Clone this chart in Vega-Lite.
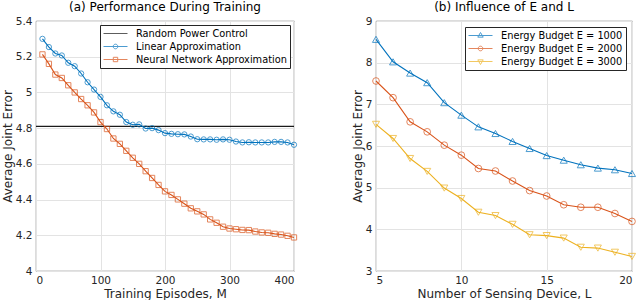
{
  "$schema": "https://vega.github.io/schema/vega-lite/v6.json",
  "padding": {"left": 0, "top": 0, "right": 6, "bottom": 0},
  "background": "white",
  "bounds": "flush",
  "resolve": {"scale": {"color": "independent", "shape": "independent"}, "legend": {"color": "independent", "shape": "independent"}},
  "config": {
    "font": "DejaVu Sans",
    "view": {"stroke": "#262626", "strokeWidth": 0.8},
    "concat": {"spacing": 82},
    "axis": {"domain": false, "ticks": false, "grid": true, "gridColor": "#e3e3e3", "gridWidth": 1, "labelFont": "DejaVu Sans", "labelFontSize": 10.5, "labelColor": "#262626", "titleFont": "DejaVu Sans", "titleFontSize": 12, "titleFontWeight": "normal", "titleColor": "#262626", "labelPadding": 4, "titlePadding": 1},
    "axisX": {"titlePadding": 3},
    "title": {"font": "DejaVu Sans", "fontSize": 12, "fontWeight": "normal", "color": "#000000", "offset": 2},
    "legend": {"orient": "top-right", "padding": 3, "strokeColor": "#262626", "fillColor": "white", "labelFont": "DejaVu Sans", "labelFontSize": 9.8, "labelColor": "#000000", "labelOffset": 15, "symbolOffset": 7, "rowPadding": 2, "symbolStrokeWidth": 1, "symbolSize": 100, "symbolFillColor": "transparent"}
  },
  "hconcat": [
    {
      "width": 258,
      "height": 250,
      "title": {"text": "(a) Performance During Training"},
      "data": {"values": [
        {"ep": 0, "Random Power Control": 4.81},
        {"ep": 10, "Linear Approximation": 5.300, "Neural Network Approximation": 5.213},
        {"ep": 20, "Linear Approximation": 5.254, "Neural Network Approximation": 5.160},
        {"ep": 30, "Linear Approximation": 5.218, "Neural Network Approximation": 5.100},
        {"ep": 40, "Linear Approximation": 5.207, "Neural Network Approximation": 5.081},
        {"ep": 50, "Linear Approximation": 5.166, "Neural Network Approximation": 5.040},
        {"ep": 60, "Linear Approximation": 5.147, "Neural Network Approximation": 5.000},
        {"ep": 70, "Linear Approximation": 5.106, "Neural Network Approximation": 4.963},
        {"ep": 80, "Linear Approximation": 5.057, "Neural Network Approximation": 4.928},
        {"ep": 90, "Linear Approximation": 5.016, "Neural Network Approximation": 4.888},
        {"ep": 100, "Linear Approximation": 4.975, "Neural Network Approximation": 4.834},
        {"ep": 110, "Linear Approximation": 4.928, "Neural Network Approximation": 4.795},
        {"ep": 120, "Linear Approximation": 4.894, "Neural Network Approximation": 4.742},
        {"ep": 130, "Linear Approximation": 4.875, "Neural Network Approximation": 4.712},
        {"ep": 140, "Linear Approximation": 4.834, "Neural Network Approximation": 4.673},
        {"ep": 150, "Linear Approximation": 4.819, "Neural Network Approximation": 4.634},
        {"ep": 160, "Linear Approximation": 4.821, "Neural Network Approximation": 4.600},
        {"ep": 170, "Linear Approximation": 4.798, "Neural Network Approximation": 4.559},
        {"ep": 180, "Linear Approximation": 4.800, "Neural Network Approximation": 4.521},
        {"ep": 190, "Linear Approximation": 4.789, "Neural Network Approximation": 4.482},
        {"ep": 200, "Linear Approximation": 4.772, "Neural Network Approximation": 4.446},
        {"ep": 210, "Linear Approximation": 4.768, "Neural Network Approximation": 4.426},
        {"ep": 220, "Linear Approximation": 4.766, "Neural Network Approximation": 4.401},
        {"ep": 230, "Linear Approximation": 4.765, "Neural Network Approximation": 4.377},
        {"ep": 240, "Linear Approximation": 4.753, "Neural Network Approximation": 4.351},
        {"ep": 250, "Linear Approximation": 4.738, "Neural Network Approximation": 4.334},
        {"ep": 260, "Linear Approximation": 4.737, "Neural Network Approximation": 4.317},
        {"ep": 270, "Linear Approximation": 4.737, "Neural Network Approximation": 4.289},
        {"ep": 280, "Linear Approximation": 4.735, "Neural Network Approximation": 4.270},
        {"ep": 290, "Linear Approximation": 4.737, "Neural Network Approximation": 4.248},
        {"ep": 300, "Linear Approximation": 4.735, "Neural Network Approximation": 4.238},
        {"ep": 310, "Linear Approximation": 4.725, "Neural Network Approximation": 4.234},
        {"ep": 320, "Linear Approximation": 4.720, "Neural Network Approximation": 4.230},
        {"ep": 330, "Linear Approximation": 4.721, "Neural Network Approximation": 4.229},
        {"ep": 340, "Linear Approximation": 4.720, "Neural Network Approximation": 4.221},
        {"ep": 350, "Linear Approximation": 4.720, "Neural Network Approximation": 4.216},
        {"ep": 360, "Linear Approximation": 4.720, "Neural Network Approximation": 4.214},
        {"ep": 370, "Linear Approximation": 4.723, "Neural Network Approximation": 4.208},
        {"ep": 380, "Linear Approximation": 4.723, "Neural Network Approximation": 4.204},
        {"ep": 390, "Linear Approximation": 4.720, "Neural Network Approximation": 4.197},
        {"ep": 400, "Linear Approximation": 4.707, "Neural Network Approximation": 4.188, "Random Power Control": 4.81}
      ]},
      "transform": [{"fold": ["Random Power Control", "Linear Approximation", "Neural Network Approximation"], "as": ["series", "err"]}, {"filter": "isValid(datum.err)"}],
      "encoding": {
        "x": {"field": "ep", "type": "quantitative", "scale": {"domain": [0, 400], "nice": false}, "axis": {"values": [0, 100, 200, 300, 400], "title": "Training Episodes, M"}},
        "y": {"field": "err", "type": "quantitative", "scale": {"domain": [4, 5.4], "nice": false, "zero": false}, "axis": {"values": [4, 4.2, 4.4, 4.6, 4.8, 5, 5.2, 5.4], "format": "~g", "title": "Average Joint Error"}},
        "color": {"field": "series", "type": "nominal", "scale": {"domain": ["Random Power Control", "Linear Approximation", "Neural Network Approximation"], "range": ["#1a1a1a", "#0072BD", "#D95319"]}, "legend": {"title": null, "offset": 4}}
      },
      "layer": [
        {"mark": {"type": "line", "strokeWidth": 1.1}},
        {"transform": [{"filter": "datum.series === 'Linear Approximation'"}], "mark": {"type": "point", "shape": "circle", "filled": false, "size": 28, "strokeWidth": 1}},
        {"transform": [{"filter": "datum.series === 'Neural Network Approximation'"}], "mark": {"type": "point", "shape": "square", "filled": false, "size": 28, "strokeWidth": 1}},
        {
          "mark": {"type": "point", "filled": false, "size": 0},
          "encoding": {
            "shape": {"field": "series", "type": "nominal", "scale": {"domain": ["Random Power Control", "Linear Approximation", "Neural Network Approximation"], "range": ["M-2.4,0H2.4", "M-2.4,0H2.4M0.46,0A0.46,0.46 0 1,1 -0.46,0A0.46,0.46 0 1,1 0.46,0Z", "M-2.4,0H2.4M-0.44,-0.44H0.44V0.44H-0.44Z"]}, "legend": {"title": null, "offset": 4}}
          }
        }
      ]
    },
    {
      "width": 256,
      "height": 250,
      "title": {"text": "(b) Influence of E and L"},
      "data": {"values": [
        {"L": 5, "Energy Budget E = 1000": 8.56, "Energy Budget E = 2000": 7.56, "Energy Budget E = 3000": 6.52},
        {"L": 6, "Energy Budget E = 1000": 8.02, "Energy Budget E = 2000": 7.16, "Energy Budget E = 3000": 6.18},
        {"L": 7, "Energy Budget E = 1000": 7.75, "Energy Budget E = 2000": 6.58, "Energy Budget E = 3000": 5.70},
        {"L": 8, "Energy Budget E = 1000": 7.52, "Energy Budget E = 2000": 6.34, "Energy Budget E = 3000": 5.39},
        {"L": 9, "Energy Budget E = 1000": 7.04, "Energy Budget E = 2000": 6.02, "Energy Budget E = 3000": 4.99},
        {"L": 10, "Energy Budget E = 1000": 6.74, "Energy Budget E = 2000": 5.78, "Energy Budget E = 3000": 4.74},
        {"L": 11, "Energy Budget E = 1000": 6.46, "Energy Budget E = 2000": 5.46, "Energy Budget E = 3000": 4.41},
        {"L": 12, "Energy Budget E = 1000": 6.30, "Energy Budget E = 2000": 5.40, "Energy Budget E = 3000": 4.33},
        {"L": 13, "Energy Budget E = 1000": 6.11, "Energy Budget E = 2000": 5.16, "Energy Budget E = 3000": 4.12},
        {"L": 14, "Energy Budget E = 1000": 5.94, "Energy Budget E = 2000": 4.93, "Energy Budget E = 3000": 3.87},
        {"L": 15, "Energy Budget E = 1000": 5.77, "Energy Budget E = 2000": 4.80, "Energy Budget E = 3000": 3.85},
        {"L": 16, "Energy Budget E = 1000": 5.66, "Energy Budget E = 2000": 4.59, "Energy Budget E = 3000": 3.79},
        {"L": 17, "Energy Budget E = 1000": 5.55, "Energy Budget E = 2000": 4.53, "Energy Budget E = 3000": 3.57},
        {"L": 18, "Energy Budget E = 1000": 5.47, "Energy Budget E = 2000": 4.53, "Energy Budget E = 3000": 3.55},
        {"L": 19, "Energy Budget E = 1000": 5.43, "Energy Budget E = 2000": 4.38, "Energy Budget E = 3000": 3.45},
        {"L": 20, "Energy Budget E = 1000": 5.34, "Energy Budget E = 2000": 4.19, "Energy Budget E = 3000": 3.35}
      ]},
      "transform": [{"fold": ["Energy Budget E = 1000", "Energy Budget E = 2000", "Energy Budget E = 3000"], "as": ["budget", "err"]}],
      "encoding": {
        "x": {"field": "L", "type": "quantitative", "scale": {"domain": [5, 20], "nice": false, "zero": false}, "axis": {"values": [5, 10, 15, 20], "title": "Number of Sensing Device, L"}},
        "y": {"field": "err", "type": "quantitative", "scale": {"domain": [3, 9], "nice": false, "zero": false}, "axis": {"values": [3, 4, 5, 6, 7, 8, 9], "title": "Average Joint Error"}},
        "color": {"field": "budget", "type": "nominal", "scale": {"domain": ["Energy Budget E = 1000", "Energy Budget E = 2000", "Energy Budget E = 3000"], "range": ["#0072BD", "#D95319", "#EDB120"]}, "legend": {"title": null, "offset": 6}}
      },
      "layer": [
        {"mark": {"type": "line", "strokeWidth": 1.1}},
        {"transform": [{"filter": "datum.budget === 'Energy Budget E = 1000'"}], "mark": {"type": "point", "shape": "triangle-up", "filled": false, "size": 50, "strokeWidth": 1}},
        {"transform": [{"filter": "datum.budget === 'Energy Budget E = 2000'"}], "mark": {"type": "point", "shape": "circle", "filled": false, "size": 45, "strokeWidth": 1}},
        {"transform": [{"filter": "datum.budget === 'Energy Budget E = 3000'"}], "mark": {"type": "point", "shape": "triangle-down", "filled": false, "size": 50, "strokeWidth": 1}},
        {
          "mark": {"type": "point", "filled": false, "size": 0},
          "encoding": {
            "shape": {"field": "budget", "type": "nominal", "scale": {"domain": ["Energy Budget E = 1000", "Energy Budget E = 2000", "Energy Budget E = 3000"], "range": ["M-2.4,0H2.4M0,-0.6L0.54,0.33H-0.54Z", "M-2.4,0H2.4M0.46,0A0.46,0.46 0 1,1 -0.46,0A0.46,0.46 0 1,1 0.46,0Z", "M-2.4,0H2.4M0,0.6L0.54,-0.33H-0.54Z"]}, "legend": {"title": null, "offset": 6}}
          }
        }
      ]
    }
  ]
}
